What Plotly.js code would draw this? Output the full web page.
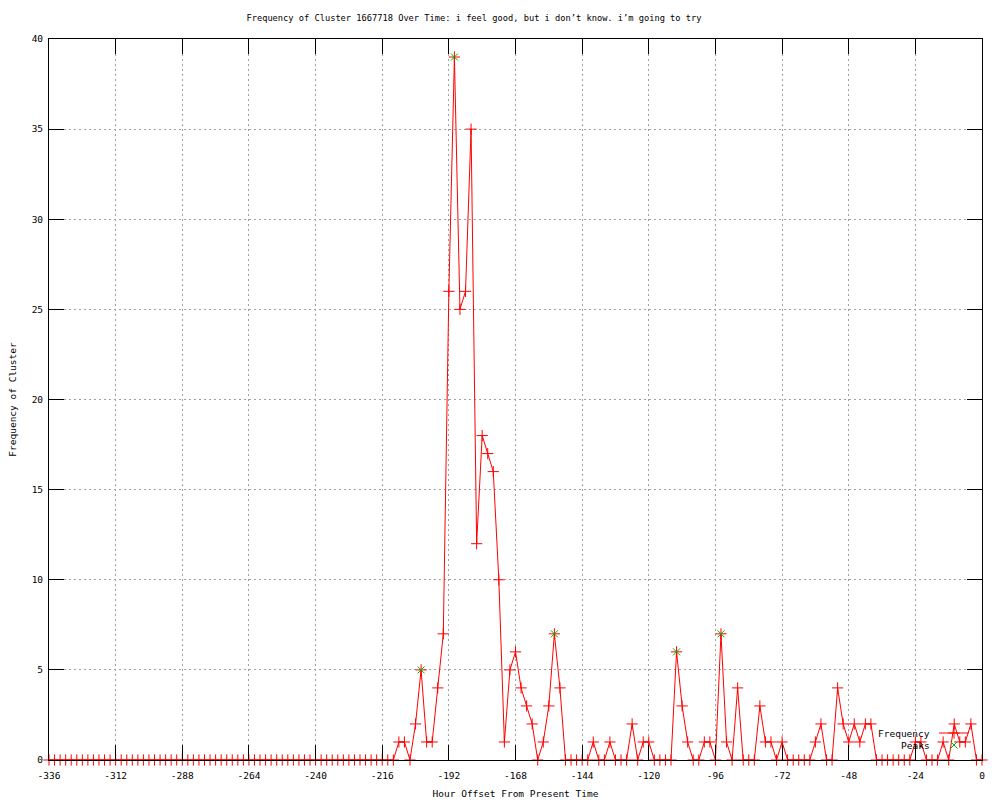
<!DOCTYPE html>
<html>
<head>
<meta charset="utf-8">
<script src="https://cdn.plot.ly/plotly-3.0.1.min.js"></script>
<style>
html, body { margin: 0; padding: 0; background: #ffffff; }
#chart { width: 1000px; height: 800px; }
</style>
</head>
<body>
<div id="chart"></div>
<script>
// Hour offsets (every 2 hours)
const hours = [
  -336,-334,-332,-330,-328,-326,-324,-322,-320,-318,-316,-314,-312,-310,-308,-306,-304,-302,
  -300,-298,-296,-294,-292,-290,-288,-286,-284,-282,-280,-278,-276,-274,-272,-270,-268,-266,
  -264,-262,-260,-258,-256,-254,-252,-250,-248,-246,-244,-242,-240,-238,-236,-234,-232,-230,
  -228,-226,-224,-222,-220,-218,-216,-214,-212,-210,-208,-206,-204,-202,-200,-198,-196,-194,
  -192,-190,-188,-186,-184,-182,-180,-178,-176,-174,-172,-170,-168,-166,-164,-162,-160,-158,
  -156,-154,-152,-150,-148,-146,-144,-142,-140,-138,-136,-134,-132,-130,-128,-126,-124,-122,
  -120,-118,-116,-114,-112,-110,-108,-106,-104,-102,-100,-98,-96,-94,-92,-90,-88,-86,
  -84,-82,-80,-78,-76,-74,-72,-70,-68,-66,-64,-62,-60,-58,-56,-54,-52,-50,
  -48,-46,-44,-42,-40,-38,-36,-34,-32,-30,-28,-26,-24,-22,-20,-18,-16,-14,
  -12,-10,-8,-6,-4,-2,0
];

// Frequency of the cluster at each hour offset
const frequency = [
  0,0,0,0,0,0,0,0,0,
  0,0,0,0,0,0,0,0,0,
  0,0,0,0,0,0,0,0,0,
  0,0,0,0,0,0,0,0,0,
  0,0,0,0,0,0,0,0,0,
  0,0,0,0,0,0,0,0,0,
  0,0,0,0,0,0,0,0,0,
  1,1,0,2,5,1,1,4,7,26,
  39,25,26,35,12,18,17,16,10,1,
  5,6,4,3,2,0,1,3,7,4,
  0,0,0,0,0,1,0,0,1,0,
  0,0,2,0,1,1,0,0,0,0,
  6,3,1,0,0,1,1,0,7,1,
  0,4,0,0,0,3,1,1,0,1,
  0,0,0,0,0,1,2,0,0,4,
  2,1,2,1,2,2,0,0,0,0,
  0,0,0,1,1,0,0,0,1,0,
  2,1,1,2,0,0
];

// Detected peaks
const peakHours = [-202, -190, -154, -110, -94];
const peakValues = [5, 39, 7, 6, 7];

// Tick labels
const xTickValues = [-336,-312,-288,-264,-240,-216,-192,-168,-144,-120,-96,-72,-48,-24,0];
const xTickLabels = ["-336","-312","-288","-264","-240","-216","-192","-168","-144","-120","-96","-72","-48","-24","0"];
const yTickValues = [0,5,10,15,20,25,30,35,40];
const yTickLabels = ["0","5","10","15","20","25","30","35","40"];

const titleText = "Frequency of Cluster 1667718 Over Time: i feel good, but i don\u2019t know. i\u2019m going to try";
const xTitle = "Hour Offset From Present Time";
const yTitle = "Frequency of Cluster";
const seriesNames = ["Frequency", "Peaks"];

const FONT = "DejaVu Sans Mono, monospace";

const traces = [
  {
    x: hours, y: frequency, type: "scatter", mode: "lines+markers",
    name: " ", legend: "legend",
    line: { color: "#ff0000", width: 1 },
    marker: { symbol: "cross-thin", size: 8, color: "#ff0000", line: { color: "#ff0000", width: 1 } },
    cliponaxis: false, hoverinfo: "x+y"
  },
  {
    x: peakHours, y: peakValues, type: "scatter", mode: "markers",
    name: " ", legend: "legend2",
    marker: { symbol: "x-thin", size: 7, color: "#00b000", line: { color: "#00b000", width: 1 } },
    cliponaxis: false, hoverinfo: "x+y"
  }
];

const L = 49, R = 982, T = 39, B = 760;
const PW = R - L, PH = B - T;
function px(x) { return (x - L) / PW; }
function py(y) { return (B - y) / PH; }

const axisCommon = {
  showline: true, linecolor: "#000000", linewidth: 1, mirror: "ticks",
  ticks: "inside", ticklen: 15, tickwidth: 1, tickcolor: "#000000",
  showgrid: true, gridcolor: "#a0a0a0", griddash: "2px,3px", gridwidth: 1,
  zeroline: false, tickfont: { family: FONT, size: 9.5, color: "#000000" },
  automargin: false
};

const layout = {
  width: 1000, height: 800,
  paper_bgcolor: "#ffffff", plot_bgcolor: "#ffffff",
  margin: { l: L, r: 1000 - R, t: T, b: 800 - B, pad: 0 },
  font: { family: FONT, size: 9.5, color: "#000000" },
  title: {
    text: titleText, font: { family: FONT, size: 8.7, color: "#000000" },
    x: 0.474, xref: "container", xanchor: "center",
    y: 1 - 18 / 800, yref: "container", yanchor: "middle"
  },
  xaxis: Object.assign({}, axisCommon, {
    range: [-336, 0], tickmode: "array", tickvals: xTickValues, ticktext: xTickLabels,
    ticklabelstandoff: 7,
    title: { text: xTitle, font: { family: FONT, size: 9.5, color: "#000000" }, standoff: 9 }
  }),
  yaxis: Object.assign({}, axisCommon, {
    range: [0, 40], tickmode: "array", tickvals: yTickValues, ticktext: yTickLabels,
    ticklabelstandoff: 3,
    title: { text: yTitle, font: { family: FONT, size: 9.5, color: "#000000" }, standoff: 13 }
  }),
  showlegend: true,
  legend: {
    x: px(934), y: py(733), xanchor: "left", yanchor: "middle",
    bgcolor: "rgba(0,0,0,0)", borderwidth: 0, itemwidth: 30,
    font: { family: FONT, size: 9 }
  },
  legend2: {
    x: px(934), y: py(745), xanchor: "left", yanchor: "middle",
    bgcolor: "rgba(0,0,0,0)", borderwidth: 0, itemwidth: 30,
    font: { family: FONT, size: 9 }
  },
  annotations: [
    { text: seriesNames[0], xref: "paper", yref: "paper", x: px(932), y: py(733),
      xanchor: "right", yanchor: "middle", showarrow: false, font: { family: FONT, size: 9.5, color: "#000000" } },
    { text: seriesNames[1], xref: "paper", yref: "paper", x: px(932), y: py(745),
      xanchor: "right", yanchor: "middle", showarrow: false, font: { family: FONT, size: 9.5, color: "#000000" } }
  ]
};

Plotly.newPlot("chart", traces, layout, { displayModeBar: false, staticPlot: true });
</script>
</body>
</html>
